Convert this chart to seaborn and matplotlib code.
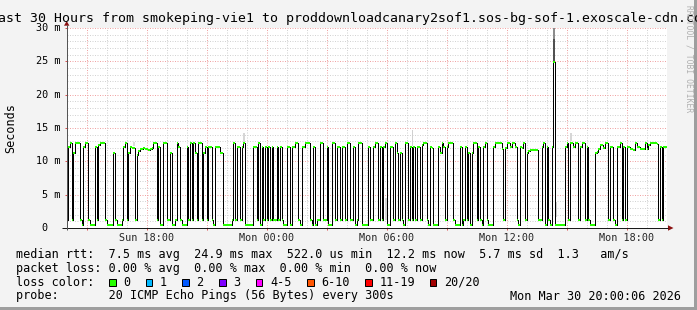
import numpy as np
import pandas as pd
import matplotlib
matplotlib.use("Agg")
import matplotlib.pyplot as plt
import matplotlib.transforms as mtransforms
from matplotlib.patches import Rectangle, Polygon
import seaborn as sns

# ---------------- data ----------------
step_minutes = 5          # one RRD step = 300 s
start_hour_of_day = 14    # Sun 14:00 .. Mon 20:00 (30 hours)

# median RTT per 5-minute step, in ms
median_rtt_ms = [
    1.2, 12.2, 12.8, 1.2, 11.2, 12.8, 12.8, 12.8, 1.2, 0.5,
    12.2, 12.8, 12.8, 1.2, 0.5, 0.5, 0.5, 12.2, 1.2, 12.4,
    12.8, 12.8, 12.8, 1.2, 0.5, 0.5, 0.5, 0.5, 11.2, 1.2,
    0.5, 0.5, 0.5, 1.2, 12.2, 12.8, 1.2, 11.2, 12.2, 12.0,
    12.0, 1.2, 11.0, 11.6, 11.8, 11.8, 12.0, 11.8, 11.9, 11.7,
    11.8, 12.0, 12.8, 12.8, 1.2, 12.2, 0.5, 0.5, 12.8, 12.8,
    1.2, 1.2, 11.2, 0.5, 0.5, 1.2, 12.8, 12.2, 1.2, 0.5,
    0.5, 0.5, 12.2, 1.2, 12.8, 1.2, 12.8, 11.2, 1.2, 12.8,
    12.8, 1.2, 11.2, 12.2, 1.2, 12.2, 12.2, 1.2, 0.5, 12.2,
    12.2, 12.2, 11.2, 11.2, 0.5, 0.5, 0.5, 0.5, 0.5, 1.2,
    12.8, 1.2, 12.2, 12.2, 1.2, 12.2, 12.8, 0.5, 0.5, 0.5,
    0.5, 0.5, 12.2, 12.2, 1.2, 12.8, 0.5, 12.2, 1.2, 12.2,
    1.2, 12.2, 1.2, 12.2, 1.2, 1.2, 12.2, 1.2, 12.2, 1.2,
    0.5, 0.5, 12.2, 12.2, 0.5, 12.2, 12.2, 12.8, 12.8, 1.2,
    0.5, 12.2, 12.2, 12.8, 12.8, 12.8, 1.2, 0.5, 12.2, 0.5,
    1.2, 1.2, 12.8, 12.8, 1.2, 1.2, 12.2, 0.5, 0.5, 12.8,
    12.8, 1.2, 12.2, 12.2, 1.2, 12.2, 12.2, 1.2, 12.8, 12.8,
    1.2, 1.2, 12.2, 0.5, 1.2, 12.8, 12.8, 0.5, 0.5, 0.5,
    0.5, 12.2, 1.2, 1.2, 12.2, 12.8, 12.8, 1.2, 12.2, 1.2,
    12.2, 12.8, 0.5, 0.5, 12.2, 12.2, 1.2, 12.8, 11.2, 1.2,
    11.2, 1.2, 0.5, 12.8, 12.8, 1.2, 12.2, 1.2, 12.2, 1.2,
    12.2, 12.2, 1.2, 12.4, 12.8, 12.8, 1.2, 0.5, 12.2, 12.0,
    0.5, 0.5, 0.5, 12.2, 11.2, 12.8, 12.2, 1.2, 12.2, 12.8,
    12.8, 12.8, 1.2, 0.5, 0.5, 0.5, 12.2, 0.5, 1.2, 12.2,
    1.2, 11.2, 0.5, 11.2, 12.8, 12.8, 1.2, 12.2, 1.2, 0.5,
    12.2, 12.8, 1.2, 0.5, 0.5, 0.5, 12.2, 12.8, 12.8, 12.8,
    12.8, 11.9, 1.2, 12.0, 12.8, 12.8, 12.2, 12.8, 12.8, 12.2,
    1.2, 0.5, 12.2, 12.0, 12.8, 1.2, 11.2, 11.6, 11.7, 11.7,
    11.7, 11.7, 11.7, 1.2, 1.2, 12.2, 12.8, 0.5, 12.2, 1.2,
    0.5, 12.2, 24.9, 0.5, 0.5, 0.5, 0.5, 0.5, 0.5, 12.2,
    12.8, 1.2, 12.8, 12.8, 12.2, 12.8, 12.8, 1.2, 12.2, 12.8,
    12.8, 1.2, 12.2, 1.2, 0.5, 0.5, 0.5, 11.2, 11.4, 11.8,
    12.4, 12.4, 12.0, 12.8, 12.8, 1.2, 12.2, 12.2, 1.2, 0.5,
    12.2, 12.2, 12.8, 1.2, 12.2, 1.2, 12.2, 12.2, 11.8, 11.8,
    11.7, 12.8, 12.2, 12.2, 11.8, 11.9, 11.9, 12.8, 11.9, 12.4,
    12.8, 12.8, 12.8, 12.8, 12.6, 1.2, 12.2, 1.2, 12.2, 12.2,
]

# visible "smoke" (spread of the 20 pings) at a few steps
smoke_step = [40, 106, 191, 207, 293, 302, 292, 292]
smoke_lo_ms = [12.3, 12.9, 1.2, 12.3, 1.7, 13.0, 24.9, 28.3]
smoke_hi_ms = [12.9, 14.2, 4.5, 14.7, 3.9, 14.3, 28.3, 30.0]
smoke_color = ["#dddddd", "#d6d6d6", "#d6d6d6", "#d0d0d0", "#cfcfcf", "#d6d6d6", "#505050", "#8c8c8c"]

x_tick_hours = [4, 10, 16, 22, 28]
x_tick_labels = ["Sun 18:00", "Mon 00:00", "Mon 06:00", "Mon 12:00", "Mon 18:00"]
y_tick_ms = [0, 5, 10, 15, 20, 25, 30]
y_tick_labels = ["0", "5 m", "10 m", "15 m", "20 m", "25 m", "30 m"]

loss_labels = ["0", "1", "2", "3", "4-5", "6-10", "11-19", "20/20"]
loss_colors = ["#26ff00", "#00b8ff", "#0059ff", "#7e00ff", "#ff00ff", "#ff5500", "#ff0000", "#a10000"]

title = "Last 30 Hours from smokeping-vie1 to proddownloadcanary2sof1.sos-bg-sof-1.exoscale-cdn.com"
legend_rows = [
    "median rtt:  7.5 ms avg  24.9 ms max  522.0 us min  12.2 ms now  5.7 ms sd  1.3   am/s",
    "packet loss: 0.00 % avg  0.00 % max  0.00 % min  0.00 % now",
    "loss color:",
    "probe:       20 ICMP Echo Pings (56 Bytes) every 300s",
]
timestamp = "Mon Mar 30 20:00:06 2026"

# ---------------- figure ----------------
W, H = 697, 310
PT = 0.72  # points per pixel at dpi 100
MONO = "DejaVu Sans Mono"

sns.set_theme(style="white")
plt.rcParams["font.family"] = [MONO, "DejaVu Sans"]

fig = plt.figure(figsize=(W / 100, H / 100), dpi=100)
fig.patch.set_facecolor("#f3f3f3")

ax_left, ax_right, ax_top, ax_bottom = 66.7, 666.7, 28.0, 228.0
ax = fig.add_axes([ax_left / W, (H - ax_bottom) / H,
                   (ax_right - ax_left) / W, (ax_bottom - ax_top) / H])
ax.set_facecolor("white")
for s in ax.spines.values():
    s.set_visible(False)

n = len(median_rtt_ms)
step_h = step_minutes / 60.0
edges_h = np.arange(n + 1) * step_h
ax.set_xlim(0, 30)
ax.set_ylim(0, 30)

# grid: minor every 1 h / 1 ms grey, major every 3 h / 5 ms red (dotted)
dot = (0, (1, 1.5))
minor_c, major_c = "#d3d3d3", "#f0a4a4"
for hh in range(1, 31):
    major = (start_hour_of_day + hh) % 3 == 0
    ax.axvline(hh, color=major_c if major else minor_c, lw=PT, ls=dot, zorder=0.5)
for v in range(1, 31):
    major = v % 5 == 0
    ax.axhline(v, color=major_c if major else minor_c, lw=PT, ls=dot, zorder=0.5)

# smoke
for k, lo, hi, c in zip(smoke_step, smoke_lo_ms, smoke_hi_ms, smoke_color):
    ax.add_patch(Rectangle((k * step_h, lo), step_h, hi - lo, facecolor=c,
                           edgecolor="none", zorder=1))

# median line: black step connectors + green level segments
df = pd.DataFrame({"hours": edges_h,
                   "rtt": list(median_rtt_ms) + [median_rtt_ms[-1]]})
sns.lineplot(data=df, x="hours", y="rtt", drawstyle="steps-post", estimator=None,
             color="#000000", lw=1.0 * PT, ax=ax, zorder=2, antialiased=False)
ax.hlines(median_rtt_ms, edges_h[:-1], edges_h[1:], color=loss_colors[0],
          lw=2.0 * PT, zorder=3, antialiased=False)

# ticks
ax.set_xticks(x_tick_hours)
ax.set_xticklabels(x_tick_labels, fontsize=7.3, family=MONO)
ax.set_xticks([1, 7, 13, 19, 25], minor=True)
ax.tick_params(axis="x", which="both", length=2 * PT, width=PT, color="#de5151",
               direction="out", pad=2.5, bottom=True)
ax.set_yticks(y_tick_ms)
ax.set_yticklabels([])
ax.tick_params(axis="y", which="both", length=2 * PT, width=PT, color="#de5151",
               direction="out", left=True)
ax.set_xlabel("")
ax.set_ylabel("")

blend = mtransforms.blended_transform_factory(ax.transAxes, ax.transData)
for v, lab in zip(y_tick_ms, y_tick_labels):
    extra = 0 if " m" in lab else 2 * 6.1
    ax.text(-(6.7 + extra) / 600.0, v, lab, transform=blend, ha="right", va="center",
            fontsize=7.3, family=MONO, color="black")

# ---------------- overlay in pixel coordinates ----------------
ov = fig.add_axes([0, 0, 1, 1])
ov.set_xlim(0, W)
ov.set_ylim(H, 0)
ov.axis("off")
ov.patch.set_alpha(0)

# frame shading
ov.add_patch(Rectangle((0, H - 3), W, 3, facecolor="#9e9e9e", edgecolor="none"))
ov.add_patch(Rectangle((W - 3, 0), 3, H, facecolor="#9e9e9e", edgecolor="none"))

# axes lines and arrows
ov.plot([62, 668], [228, 228], color="#1a1a1a", lw=PT, solid_capstyle="butt")
ov.plot([66.7, 66.7], [230, 25], color="#555555", lw=PT, solid_capstyle="butt")
ov.add_patch(Polygon([(64.0, 25.7), (69.4, 25.7), (66.7, 21.0)], closed=True,
                     facecolor="#8b1010", edgecolor="none"))
ov.add_patch(Polygon([(668.0, 225.3), (668.0, 230.7), (673.5, 228.0)], closed=True,
                     facecolor="#8b1010", edgecolor="none"))

# title
ov.text(W / 2 + 1, 18.5, title, ha="center", va="center", fontsize=9.5, family=MONO,
        color="black")
# y label
ov.text(11, 128, "Seconds", rotation=90, ha="center", va="center", fontsize=8.5,
        family=MONO, color="black")
# watermark
ov.text(688.5, 5, "RRDTOOL / TOBI OETIKER", rotation=270, ha="center", va="top",
        fontsize=5.8, family=MONO, color="#b0b0b0")

# legend rows
row_y = [254.3, 268.3, 282.3, 296.0]
for y, txt in zip(row_y, legend_rows):
    ov.text(16, y, txt, ha="left", va="center", fontsize=8.5, family=MONO, color="black")
ov.text(680.5, row_y[3], timestamp, ha="right", va="center", fontsize=8.5, family=MONO,
        color="black")

sq_x = [109.0, 145.7, 182.3, 219.0, 255.7, 307.3, 365.3, 429.7]
for x0, lab, col in zip(sq_x, loss_labels, loss_colors):
    ov.add_patch(Rectangle((x0, 278.5), 6.7, 7.5, facecolor=col, edgecolor="black",
                           lw=PT))
    ov.text(x0 + 14.3, row_y[2], lab, ha="left", va="center", fontsize=8.5,
            family=MONO, color="black")

fig.savefig("out.png", dpi=100, facecolor=fig.get_facecolor())
